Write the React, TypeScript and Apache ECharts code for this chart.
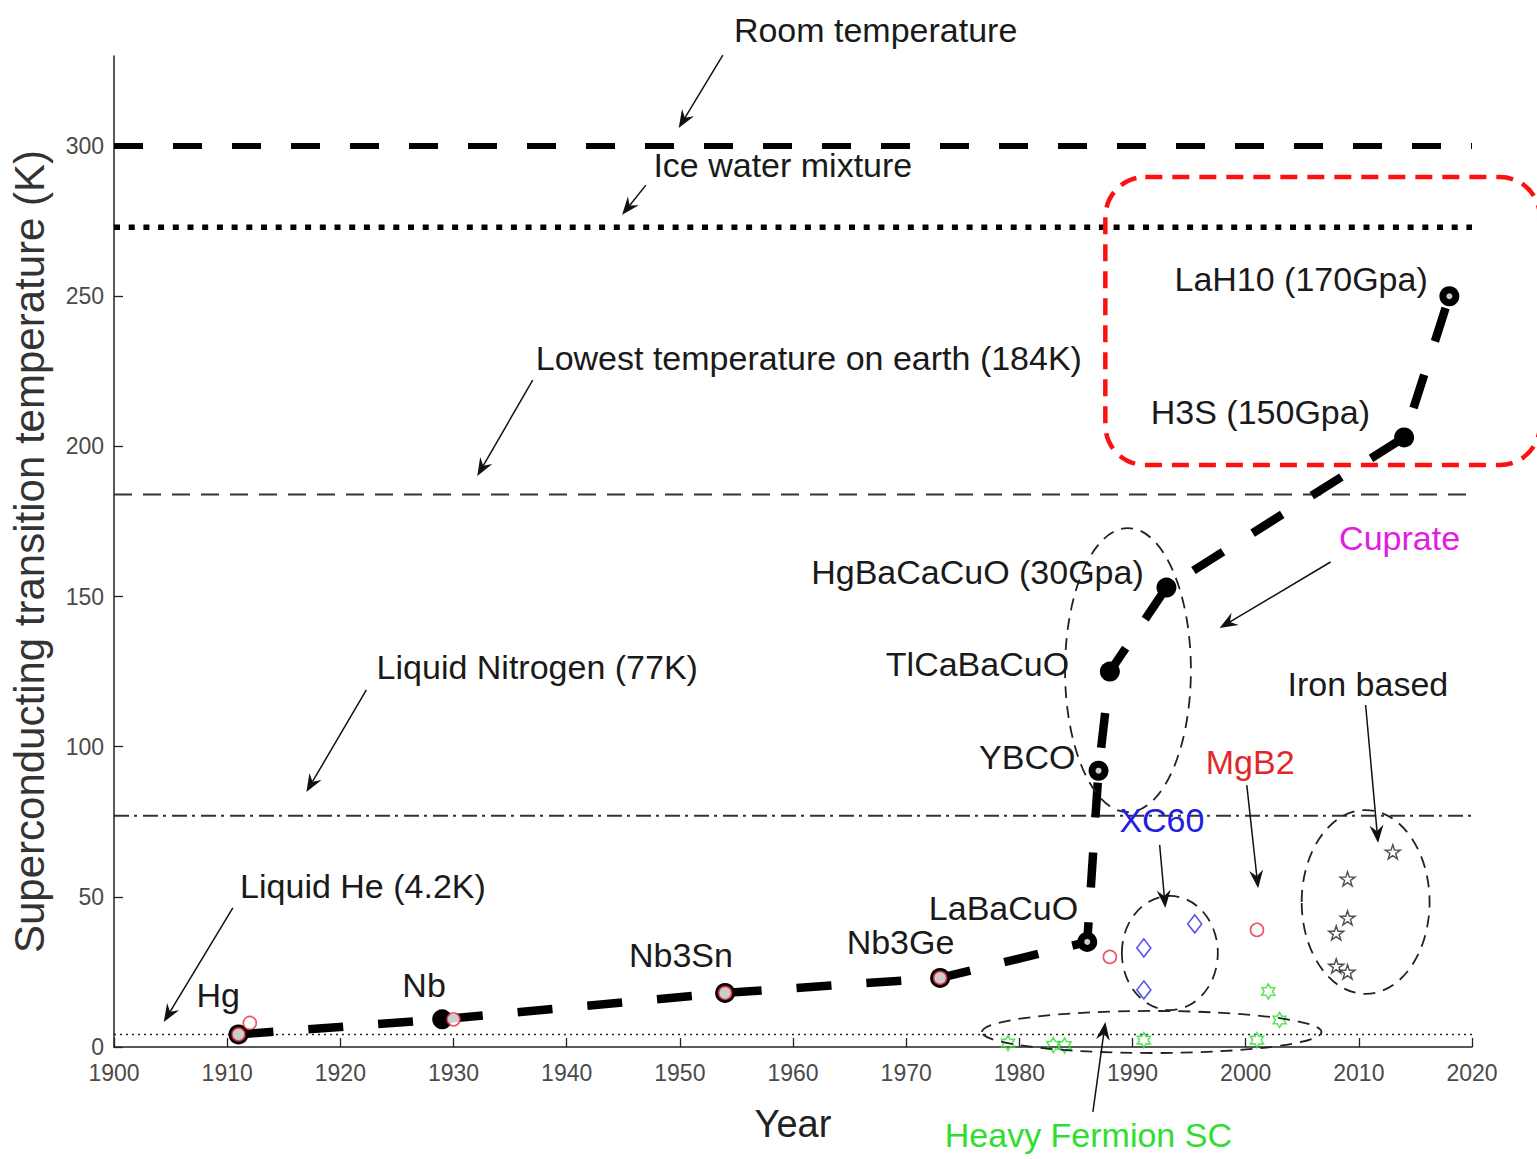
import React, { useEffect, useRef } from 'react';
import * as echarts from 'echarts';

// ---------- data ----------
const mainNames = ['Hg', 'Nb', 'Nb3Sn', 'Nb3Ge', 'LaBaCuO', 'YBCO', 'TlCaBaCuO', 'HgBaCaCuO (30Gpa)', 'H3S (150Gpa)', 'LaH10 (170Gpa)'];
const mainYears = [1911, 1929, 1954, 1973, 1986, 1987, 1988, 1993, 2014, 2018];
const mainTc = [4.2, 9.2, 18, 23, 35, 92, 125, 153, 203, 250];
const hollowCenterNames = ['LaBaCuO', 'YBCO', 'LaH10 (170Gpa)'];

const bcsYears = [1911, 1912, 1930, 1954, 1973, 1988, 2001];
const bcsTc = [4.2, 8, 9.2, 18, 23, 30, 39];

const c60Years = [1991, 1991, 1995.5];
const c60Tc = [33, 19, 41];

const hfYears = [1979, 1983, 1984, 1991, 2001, 2002, 2003];
const hfTc = [1.3, 0.6, 0.5, 2.3, 2.3, 18.5, 9];

const feYears = [2013, 2009, 2009, 2008, 2008, 2009];
const feTc = [65, 56, 43, 38, 27, 25];

const refNames = ['Room temperature', 'Ice water mixture', 'Lowest temperature on earth (184K)', 'Liquid Nitrogen (77K)', 'Liquid He (4.2K)'];
const refValues = [300, 273, 184, 77, 4.2];

const xTickValues = [1900, 1910, 1920, 1930, 1940, 1950, 1960, 1970, 1980, 1990, 2000, 2010, 2020];
const yTickValues = [0, 50, 100, 150, 200, 250, 300];

// material label positions (data coords)
const labelX = [1909.2, 1927.4, 1950.1, 1969.5, 1978.6, 1980.7, 1976.3, 1976.3, 2001.3, 2004.9];
const labelY = [17.3, 20.6, 30.6, 35.0, 46.3, 96.6, 127.5, 158.2, 211.5, 255.7];

// annotation texts with arrows (data coords)
const annTexts = ['Room temperature', 'Ice water mixture', 'Lowest temperature on earth (184K)', 'Liquid Nitrogen (77K)', 'Liquid He (4.2K)', 'Cuprate', 'Iron based', 'MgB2', 'XC60', 'Heavy Fermion SC'];
const annColors = ['#1a1a1a', '#1a1a1a', '#1a1a1a', '#1a1a1a', '#1a1a1a', '#e020e0', '#1a1a1a', '#e02828', '#2020e0', '#30dd30'];
const annTextX = [1967.3, 1959.1, 1961.4, 1937.4, 1922.0, 2013.6, 2010.8, 2000.4, 1992.6, 1986.1];
const annTextY = [338.6, 293.7, 229.4, 126.5, 53.6, 169.5, 120.9, 94.9, 75.6, -29.3];
const arrowFromX = [1953.8, 1947.0, 1937.0, 1922.3, 1910.5, 2007.5, 2010.6, 2000.1, 1992.4, 1986.5];
const arrowFromY = [330.3, 287.0, 222.1, 118.9, 46.3, 161.5, 113.9, 87.2, 67.3, -21.6];
const arrowToX = [1949.9, 1944.9, 1932.1, 1917.0, 1904.4, 1997.7, 2011.7, 2001.1, 1992.9, 1987.6];
const arrowToY = [306.0, 277.1, 190.1, 84.9, 8.3, 139.5, 67.9, 52.9, 46.3, 8.3];

// dashed ellipses around groups (center, radii in data units)
const ellCx = [1989.6, 1993.3, 2010.6, 1991.7];
const ellCy = [125.5, 31.3, 48.3, 5.0];
const ellRx = [5.56, 4.24, 5.65, 15.0];
const ellRy = [47.3, 19.0, 30.6, 7.0];

// high-pressure hydride box (data coords)
const boxX = [1987.6, 2026.0];
const boxY = [289.7, 193.8];

// ---------- symbols ----------
function starPath(n: number, rIn: number) {
  const pts: string[] = [];
  for (let i = 0; i < 2 * n; i++) {
    const r = i % 2 ? rIn : 1;
    const a = -Math.PI / 2 + (i * Math.PI) / n;
    pts.push((i ? 'L' : 'M') + (50 + 50 * r * Math.cos(a)).toFixed(2) + ' ' + (50 + 50 * r * Math.sin(a)).toFixed(2));
  }
  return 'path://' + pts.join(' ') + ' Z';
}
const pentagram = starPath(5, 0.382);
const hexagram = starPath(6, 0.577);

const zip = (a: number[], b: number[]) => a.map((v, i) => [v, b[i]]);

const FONT = '"Liberation Sans", Arial, sans-serif';

const refStyles = [
  { width: 6, type: [29, 30], color: '#000' },
  { width: 5.5, type: [6, 8.7], color: '#000' },
  { width: 2, type: [18, 11], color: '#333' },
  { width: 2, type: [15, 5, 3, 6], color: '#333' },
  { width: 1.5, type: [2, 4], color: '#222' },
];

export default function App() {
  const ref = useRef<HTMLDivElement>(null);
  useEffect(() => {
    if (!ref.current) return;
    const chart = echarts.init(ref.current, undefined, { renderer: 'svg' });
    const series: any[] = [];
    refValues.forEach((v, i) => {
      series.push({
        type: 'line',
        name: refNames[i],
        data: [[xTickValues[0], v], [xTickValues[xTickValues.length - 1], v]],
        symbol: 'none',
        lineStyle: refStyles[i],
        z: 1,
        silent: true,
      });
    });
    series.push({
      type: 'line',
      name: 'main',
      data: zip(mainYears, mainTc),
      symbol: 'circle',
      symbolSize: 20,
      showAllSymbol: true,
      itemStyle: { color: '#000' },
      lineStyle: { color: '#000', width: 8.5, type: [35, 35] },
      z: 3,
    });
    series.push({
      type: 'scatter',
      name: 'centers',
      data: mainNames.map((n, i) => (hollowCenterNames.includes(n) ? [mainYears[i], mainTc[i]] : null)).filter(Boolean),
      symbol: 'circle',
      symbolSize: 6,
      itemStyle: { color: '#fff' },
      z: 4,
    });
    series.push({
      type: 'scatter',
      name: 'BCS',
      data: zip(bcsYears, bcsTc),
      symbol: 'circle',
      symbolSize: 13,
      itemStyle: { color: '#fff', borderColor: '#e8283a', borderWidth: 1.6 },
      z: 5,
    });
    series.push({
      type: 'scatter',
      name: 'XC60',
      data: zip(c60Years, c60Tc),
      symbol: 'diamond',
      symbolSize: [14, 18],
      itemStyle: { color: 'rgba(0,0,0,0)', borderColor: '#2a2ae0', borderWidth: 1.6 },
      z: 5,
    });
    series.push({
      type: 'scatter',
      name: 'HF',
      data: zip(hfYears, hfTc),
      symbol: hexagram,
      symbolSize: 15,
      symbolKeepAspect: true,
      itemStyle: { color: 'rgba(0,0,0,0)', borderColor: '#33dd33', borderWidth: 1.6 },
      z: 5,
    });
    series.push({
      type: 'scatter',
      name: 'Fe',
      data: zip(feYears, feTc),
      symbol: pentagram,
      symbolSize: 15,
      symbolKeepAspect: true,
      itemStyle: { color: 'rgba(0,0,0,0)', borderColor: '#222', borderWidth: 1.4 },
      z: 5,
    });

    chart.setOption({
      animation: false,
      backgroundColor: '#fff',
      grid: { left: 113, right: 65, top: 56, bottom: 112 },
      xAxis: {
        type: 'value',
        min: 1900,
        max: 2020,
        interval: 10,
        name: 'Year',
        nameLocation: 'middle',
        nameGap: 58,
        nameTextStyle: { fontSize: 38, color: '#222', fontFamily: FONT },
        axisLine: { lineStyle: { color: '#222', width: 1.5 } },
        axisTick: { inside: true, length: 9, lineStyle: { color: '#222', width: 1.3 } },
        axisLabel: { color: '#4a4a4a', fontSize: 23, fontFamily: FONT, margin: 14, formatter: (v: number) => String(v) },
        splitLine: { show: false },
      },
      yAxis: {
        type: 'value',
        min: 0,
        max: 330,
        name: 'Superconducting transition temperature (K)',
        nameLocation: 'middle',
        nameGap: 64,
        nameRotate: 90,
        nameTextStyle: { fontSize: 42, color: '#333', fontFamily: FONT },
        axisLine: { show: true, lineStyle: { color: '#222', width: 1.5 } },
        axisTick: { show: true, inside: true, length: 9, customValues: yTickValues, lineStyle: { color: '#222', width: 1.3 } },
        axisLabel: { color: '#4a4a4a', fontSize: 23, fontFamily: FONT, margin: 10, customValues: yTickValues, formatter: (v: number) => String(v) },
        splitLine: { show: false },
      },
      series,
    });

    const px = (x: number, y: number) => chart.convertToPixel({ gridIndex: 0 }, [x, y]) as number[];
    const g: any[] = [];
    // ellipses
    ellCx.forEach((cx, i) => {
      const c = px(cx, ellCy[i]);
      const e = px(cx + ellRx[i], ellCy[i] - ellRy[i]);
      g.push({
        type: 'ellipse',
        shape: { cx: c[0], cy: c[1], rx: Math.abs(e[0] - c[0]), ry: Math.abs(e[1] - c[1]) },
        style: { fill: 'none', stroke: '#222', lineWidth: 1.8, lineDash: [12, 8] },
        z: 10,
      });
    });
    // red box
    const b1 = px(boxX[0], boxY[0]);
    const b2 = px(boxX[1], boxY[1]);
    g.push({
      type: 'rect',
      shape: { x: b1[0], y: b1[1], width: b2[0] - b1[0], height: b2[1] - b1[1], r: 40 },
      style: { fill: 'none', stroke: '#ff1010', lineWidth: 4.5, lineDash: [17, 10] },
      z: 10,
    });
    // arrows
    arrowFromX.forEach((fx, i) => {
      const [x1, y1] = px(fx, arrowFromY[i]);
      const [x2, y2] = px(arrowToX[i], arrowToY[i]);
      const ang = Math.atan2(y2 - y1, x2 - x1);
      const ux = Math.cos(ang), uy = Math.sin(ang), nx = -uy, ny = ux;
      const L = 18, W = 7, N = 12;
      const bx = x2 - ux * L, by = y2 - uy * L;
      const mx = x2 - ux * N, my = y2 - uy * N;
      g.push({ type: 'line', shape: { x1, y1, x2: mx, y2: my }, style: { stroke: '#111', lineWidth: 1.5 }, z: 10 });
      g.push({
        type: 'polygon',
        shape: { points: [[x2, y2], [bx + nx * W, by + ny * W], [mx, my], [bx - nx * W, by - ny * W]] },
        style: { fill: '#111' },
        z: 10,
      });
    });
    // annotation texts
    annTexts.forEach((t, i) => {
      const [x, y] = px(annTextX[i], annTextY[i]);
      g.push({
        type: 'text', x, y, z: 11,
        style: { text: t, fill: annColors[i], fontSize: 34, fontFamily: FONT, align: 'center', verticalAlign: 'middle' },
      });
    });
    // material labels
    mainNames.forEach((t, i) => {
      const [x, y] = px(labelX[i], labelY[i]);
      g.push({
        type: 'text', x, y, z: 11,
        style: { text: t, fill: '#1a1a1a', fontSize: 34, fontFamily: FONT, align: 'center', verticalAlign: 'middle' },
      });
    });
    chart.setOption({ graphic: g });

    return () => chart.dispose();
  }, []);
  return <div ref={ref} style={{ position: 'fixed', left: 0, top: 0, width: 1537, height: 1159 }} />;
}
